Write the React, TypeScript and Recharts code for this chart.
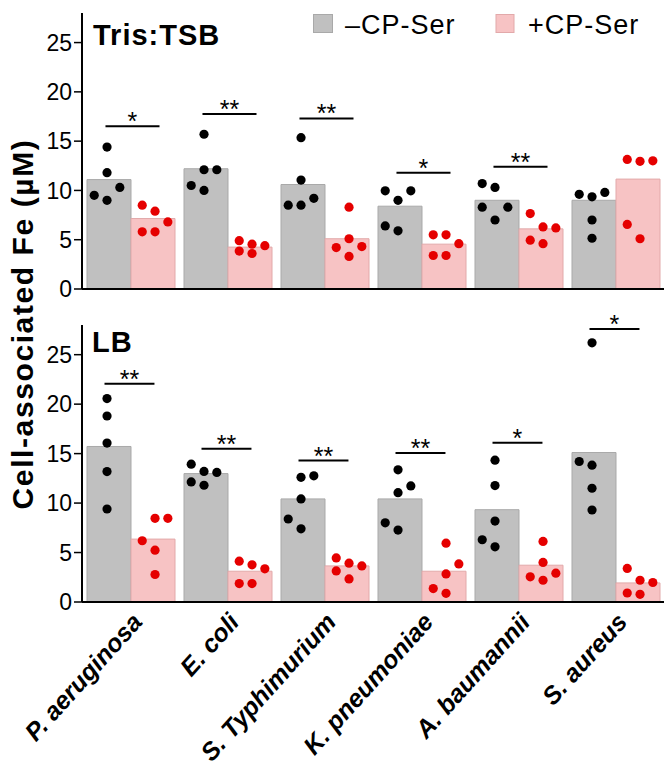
import React from 'react';
import { ComposedChart, Bar, Scatter, XAxis, YAxis, ReferenceLine } from 'recharts';

const species = ['P. aeruginosa', 'E. coli', 'S. Typhimurium', 'K. pneumoniae', 'A. baumannii', 'S. aureus'];
const yTicks = [0, 5, 10, 15, 20, 25];

// Tris:TSB panel
const trisMinus = [11.1, 12.2, 10.6, 8.4, 9.0, 9.0];
const trisPlus = [7.15, 4.25, 5.1, 4.55, 6.1, 11.15];
const trisMinusDots = [
  [14.4, 11.8, 10.3, 9.5, 9.0],
  [15.7, 12.1, 12.1, 10.5, 10.0],
  [15.35, 11.05, 9.2, 8.5, 8.5],
  [9.96, 9.96, 9.0, 6.4, 5.9],
  [10.7, 10.3, 8.3, 8.3, 7.0],
  [9.6, 9.8, 9.35, 7.0, 5.15],
];
const trisMinusLanes = [
  [0, 0, 1, -1, 0],
  [0, 0, 1, -1, 0],
  [0, 0, 1, -1, 0],
  [-1, 1, 0, -1, 0],
  [-1, 0, -1, 1, 0],
  [-1, 1, 0, 0, 0],
];
const trisPlusDots = [
  [8.5, 7.9, 6.8, 5.8, 5.8],
  [4.9, 4.55, 4.4, 3.85, 3.6],
  [8.3, 5.1, 4.2, 4.3, 3.3],
  [5.5, 5.5, 4.6, 3.4, 3.4],
  [7.65, 6.3, 6.2, 4.95, 4.6],
  [13.15, 12.95, 13.0, 6.55, 5.1],
];
const trisPlusLanes = [
  [-1, 0, 1, -1, 0],
  [-1, 0, 1, -1, 0],
  [0, 0, -1, 1, 0],
  [-1, 0, 1, -1, 0],
  [-1, 0, 1, -1, 0],
  [-1, 0, 1, -1, 0],
];
const trisStars = ['*', '**', '**', '*', '**', ''];
const trisStarY = [16.5, 17.75, 17.3, 11.8, 12.4, 0];

// LB panel
const lbMinus = [15.72, 12.98, 10.42, 10.42, 9.33, 15.11];
const lbPlus = [6.36, 3.11, 3.65, 3.11, 3.72, 1.93];
const lbMinusDots = [
  [20.56, 18.8, 16.06, 13.18, 9.4],
  [13.93, 13.2, 13.1, 12.14, 11.8],
  [12.6, 12.75, 10.42, 8.39, 7.4],
  [13.36, 11.73, 11.05, 8.0, 7.27],
  [14.34, 11.77, 8.18, 6.29, 5.58],
  [26.2, 14.2, 13.83, 11.5, 9.3],
];
const lbMinusLanes = [
  [0, 0, 0, 0, 0],
  [-1, 0, 1, -1, 0],
  [0, 1, 0, -1, 0],
  [0, 1, 0, -1, 0],
  [0, 0, 0, -1, 0],
  [0, -1, 0, 0, 0],
];
const lbPlusDots = [
  [8.46, 8.46, 6.19, 5.24, 2.78],
  [4.13, 3.76, 3.35, 1.86, 1.86],
  [4.46, 3.92, 3.65, 3.14, 2.33],
  [5.95, 3.85, 2.84, 1.36, 0.88],
  [6.12, 4.0, 2.54, 2.2, 2.91],
  [3.39, 2.2, 1.97, 0.91, 0.78],
];
const lbPlusLanes = [
  [0, 1, -1, 0, 0],
  [-1, 0, 1, -1, 0],
  [-1, 0, 1, -1, 0],
  [0, 1, 0, -1, 0],
  [0, 0, -1, 0, 1],
  [-1, 0, 1, -1, 0],
];
const lbStars = ['**', '**', '**', '**', '*', '*'];
const lbStarY = [22.05, 15.5, 14.3, 15.05, 16.1, 27.6];

const FONT = '"Liberation Sans", Arial, sans-serif';
const GRAY = '#c0c0c0';
const PINK = '#f7c3c4';
const LANE = 0.132;

const toBars = (minus: number[], plus: number[]) =>
  species.map((name, i) => ({ name, minus: minus[i], plus: plus[i] }));

const toDots = (vals: number[][], lanes: number[][], shift: number) =>
  vals.flatMap((g, i) => g.map((y, j) => ({ x: i + 0.5 + shift + lanes[i][j] * LANE, y })));

const XTick = (props: any) => {
  const { x, y, payload } = props;
  return (
    <g transform={`translate(${x + 13},${y + 13})`}>
      <text textAnchor="end" transform="rotate(-48)" fontSize={25} fontWeight="bold" fontStyle="italic" fill="#000" fontFamily={FONT}>
        {payload.value}
      </text>
    </g>
  );
};

const dot = (color: string) => (p: any) => <circle cx={p.cx} cy={p.cy} r={4.6} fill={color} />;

interface PanelProps {
  minus: number[];
  plus: number[];
  minusDots: number[][];
  minusLanes: number[][];
  plusDots: number[][];
  plusLanes: number[][];
  stars: string[];
  starY: number[];
  height: number;
  top: number;
  axisHeight: number;
  showLabels: boolean;
  sigFrom: number;
  sigTo: number;
}

const Panel: React.FC<PanelProps> = (p) => {
  const data = toBars(p.minus, p.plus);
  return (
    <ComposedChart
      width={671}
      height={p.height}
      data={data}
      margin={{ top: p.top, right: 7, bottom: 0, left: 0 }}
      barCategoryGap={5}
      barGap={0}
    >
      <XAxis
        xAxisId="cat"
        dataKey="name"
        height={p.axisHeight}
        tick={p.showLabels ? <XTick /> : false}
        tickLine={false}
        axisLine={{ stroke: '#000', strokeWidth: 2 }}
        interval={0}
      />
      <XAxis xAxisId="num" type="number" dataKey="x" domain={[0, 6]} hide allowDataOverflow />
      <YAxis
        domain={[0, 28]}
        ticks={yTicks}
        interval={0}
        width={82}
        tickSize={8}
        tickMargin={2}
        allowDataOverflow
        axisLine={{ stroke: '#000', strokeWidth: 2 }}
        tickLine={{ stroke: '#000', strokeWidth: 1.5 }}
        tick={{ fill: '#000', fontSize: 23, fontFamily: FONT }}
      />
      <Bar xAxisId="cat" dataKey="minus" fill={GRAY} stroke="#a9a9a9" strokeWidth={1} isAnimationActive={false} />
      <Bar xAxisId="cat" dataKey="plus" fill={PINK} stroke="#e2a9aa" strokeWidth={1} isAnimationActive={false} />
      <Scatter
        xAxisId="num"
        data={toDots(p.minusDots, p.minusLanes, -0.242)}
        dataKey="y"
        shape={dot('#000')}
        isAnimationActive={false}
      />
      <Scatter
        xAxisId="num"
        data={toDots(p.plusDots, p.plusLanes, 0.253)}
        dataKey="y"
        shape={dot('#e50000')}
        isAnimationActive={false}
      />
      {p.stars.map((s, i) =>
        s ? (
          <ReferenceLine
            key={i}
            xAxisId="num"
            ifOverflow="visible"
            segment={[
              { x: i + 0.5 + p.sigFrom, y: p.starY[i] },
              { x: i + 0.5 + p.sigTo, y: p.starY[i] },
            ]}
            stroke="#000"
            strokeWidth={2}
            label={{ value: s, position: 'top', offset: -4, fill: '#000', fontSize: 25, fontFamily: FONT }}
          />
        ) : null
      )}
    </ComposedChart>
  );
};

export default function App() {
  return (
    <div style={{ position: 'absolute', left: 0, top: 0, width: 671, height: 783, background: '#fff', fontFamily: FONT }}>
      <div style={{ position: 'absolute', left: 0, top: 0 }}>
        <Panel
          minus={trisMinus}
          plus={trisPlus}
          minusDots={trisMinusDots}
          minusLanes={trisMinusLanes}
          plusDots={trisPlusDots}
          plusLanes={trisPlusLanes}
          stars={trisStars}
          starY={trisStarY}
          height={310}
          top={13}
          axisHeight={21}
          showLabels={false}
          sigFrom={-0.258}
          sigTo={0.299}
        />
      </div>
      <div style={{ position: 'absolute', left: 0, top: 300 }}>
        <Panel
          minus={lbMinus}
          plus={lbPlus}
          minusDots={lbMinusDots}
          minusLanes={lbMinusLanes}
          plusDots={lbPlusDots}
          plusLanes={lbPlusLanes}
          stars={lbStars}
          starY={lbStarY}
          height={483}
          top={25}
          axisHeight={181}
          showLabels={true}
          sigFrom={-0.268}
          sigTo={0.247}
        />
      </div>
      <svg width={671} height={783} style={{ position: 'absolute', left: 0, top: 0, pointerEvents: 'none' }}>
        <text
          transform="translate(33,324) rotate(-90)"
          textAnchor="middle"
          fontSize={30}
          fontWeight="bold"
          letterSpacing={1.6}
          fontFamily={FONT}
          fill="#000"
        >
          Cell-associated Fe (µM)
        </text>
        <text x={93} y={45} fontSize={29} fontWeight="bold" letterSpacing={1} fontFamily={FONT} fill="#000">
          Tris:TSB
        </text>
        <text x={92} y={352} fontSize={29} fontWeight="bold" letterSpacing={1} fontFamily={FONT} fill="#000">
          LB
        </text>
        <rect x={313.5} y={14.5} width={19} height={18} fill={GRAY} stroke="#a9a9a9" />
        <text x={345} y={34} fontSize={27} letterSpacing={1} fontFamily={FONT} fill="#000">
          –CP-Ser
        </text>
        <rect x={496} y={14.5} width={18} height={18} fill={PINK} stroke="#e2a9aa" />
        <text x={528} y={34} fontSize={27} letterSpacing={1} fontFamily={FONT} fill="#000">
          +CP-Ser
        </text>
      </svg>
    </div>
  );
}
